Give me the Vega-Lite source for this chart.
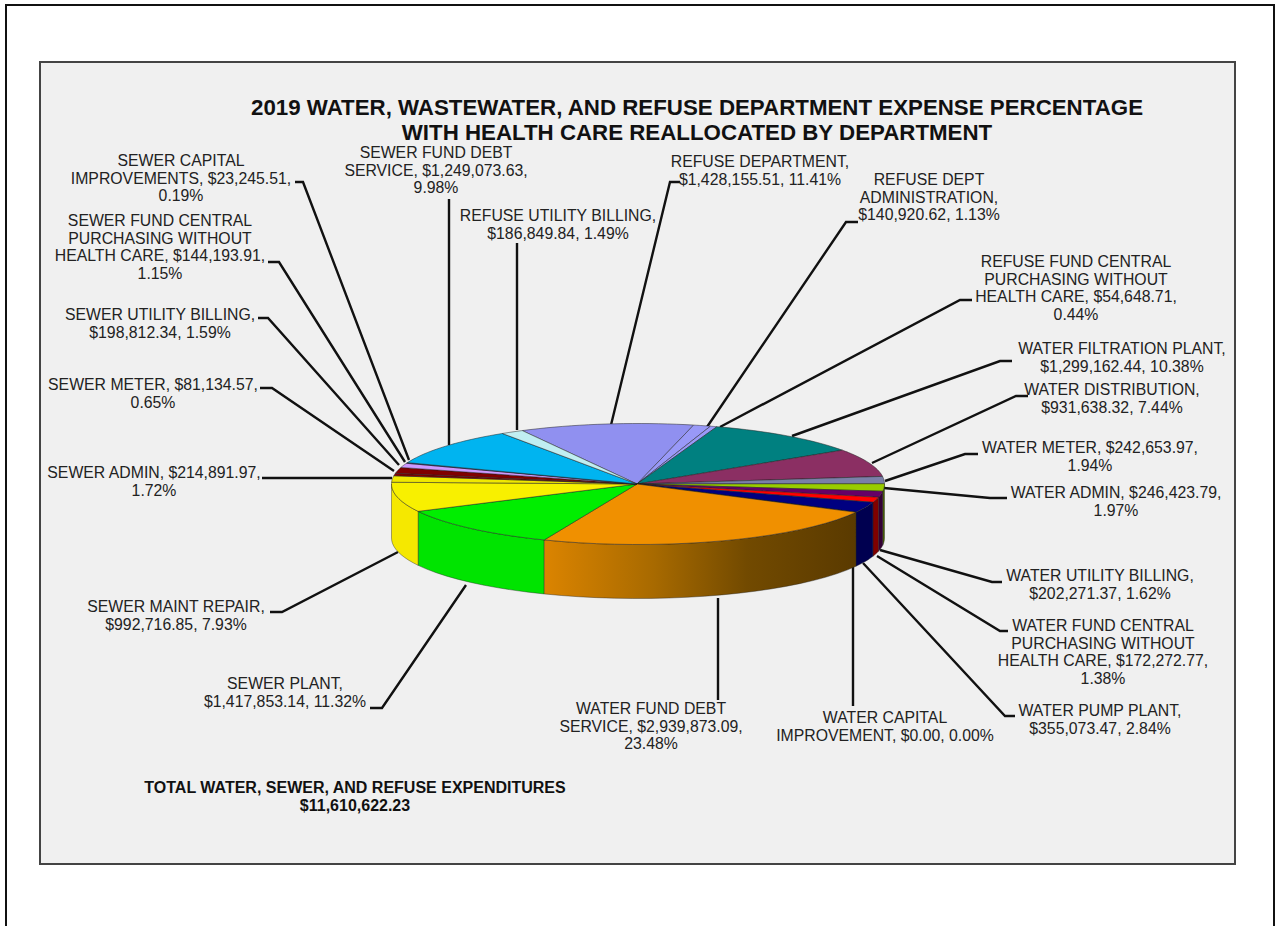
{
"$schema":"https://vega.github.io/schema/vega-lite/v6.json",
"width":1275,"height":926,"autosize":{"type":"none"},"padding":0,"background":"white",
"view":{"stroke":null},
"datasets":{
"slices":[
{"ord":1,"name":"REFUSE DEPARTMENT","value":1428155.51},
{"ord":2,"name":"REFUSE DEPT ADMINISTRATION","value":140920.62},
{"ord":3,"name":"REFUSE FUND CENTRAL PURCHASING","value":54648.71},
{"ord":4,"name":"WATER FILTRATION PLANT","value":1299162.44},
{"ord":5,"name":"WATER DISTRIBUTION","value":931638.32},
{"ord":6,"name":"WATER METER","value":242653.97},
{"ord":7,"name":"WATER ADMIN","value":246423.79},
{"ord":8,"name":"WATER UTILITY BILLING","value":202271.37},
{"ord":9,"name":"WATER FUND CENTRAL PURCHASING","value":172272.77},
{"ord":10,"name":"WATER PUMP PLANT","value":355073.47},
{"ord":11,"name":"WATER CAPITAL IMPROVEMENT","value":0},
{"ord":12,"name":"WATER FUND DEBT SERVICE","value":2939873.09},
{"ord":13,"name":"SEWER PLANT","value":1417853.14},
{"ord":14,"name":"SEWER MAINT REPAIR","value":992716.85},
{"ord":15,"name":"SEWER ADMIN","value":214891.97},
{"ord":16,"name":"SEWER METER","value":81134.57},
{"ord":17,"name":"SEWER UTILITY BILLING","value":198812.34},
{"ord":18,"name":"SEWER FUND CENTRAL PURCHASING","value":144193.91},
{"ord":19,"name":"SEWER CAPITAL IMPROVEMENTS","value":23245.51},
{"ord":20,"name":"SEWER FUND DEBT SERVICE","value":1249073.63},
{"ord":21,"name":"REFUSE UTILITY BILLING","value":186849.84}
],
"frames":[
{"part":"panel","x":40,"x2":1235,"y":62,"y2":864}
],
"labels":[
{"lbl":"SEWER CAPITAL\nIMPROVEMENTS, $23,245.51,\n0.19%","x":181,"y":166},
{"lbl":"SEWER FUND CENTRAL\nPURCHASING WITHOUT\nHEALTH CARE, $144,193.91,\n1.15%","x":160,"y":226},
{"lbl":"SEWER UTILITY BILLING,\n$198,812.34, 1.59%","x":160,"y":320},
{"lbl":"SEWER METER, $81,134.57,\n0.65%","x":153,"y":390},
{"lbl":"SEWER ADMIN, $214,891.97,\n1.72%","x":154,"y":478},
{"lbl":"SEWER MAINT REPAIR,\n$992,716.85, 7.93%","x":176,"y":612},
{"lbl":"SEWER PLANT,\n$1,417,853.14, 11.32%","x":285,"y":689},
{"lbl":"WATER FUND DEBT\nSERVICE, $2,939,873.09,\n23.48%","x":651,"y":714},
{"lbl":"WATER CAPITAL\nIMPROVEMENT, $0.00, 0.00%","x":885,"y":723},
{"lbl":"WATER PUMP PLANT,\n$355,073.47, 2.84%","x":1100,"y":716},
{"lbl":"WATER FUND CENTRAL\nPURCHASING WITHOUT\nHEALTH CARE, $172,272.77,\n1.38%","x":1103,"y":631},
{"lbl":"WATER UTILITY BILLING,\n$202,271.37, 1.62%","x":1100,"y":581},
{"lbl":"WATER ADMIN, $246,423.79,\n1.97%","x":1116,"y":498},
{"lbl":"WATER METER, $242,653.97,\n1.94%","x":1090,"y":453},
{"lbl":"WATER DISTRIBUTION,\n$931,638.32, 7.44%","x":1112,"y":395},
{"lbl":"WATER FILTRATION PLANT,\n$1,299,162.44, 10.38%","x":1122,"y":354},
{"lbl":"REFUSE FUND CENTRAL\nPURCHASING WITHOUT\nHEALTH CARE, $54,648.71,\n0.44%","x":1076,"y":267},
{"lbl":"REFUSE DEPT\nADMINISTRATION,\n$140,920.62, 1.13%","x":929,"y":185},
{"lbl":"REFUSE DEPARTMENT,\n$1,428,155.51, 11.41%","x":760,"y":167},
{"lbl":"REFUSE UTILITY BILLING,\n$186,849.84, 1.49%","x":558,"y":221},
{"lbl":"SEWER FUND DEBT\nSERVICE, $1,249,073.63,\n9.98%","x":436,"y":158}
],
"titles":[
{"lbl":"2019 WATER, WASTEWATER, AND REFUSE DEPARTMENT EXPENSE PERCENTAGE\nWITH HEALTH CARE REALLOCATED BY DEPARTMENT","x":697,"y":115}
],
"notes":[
{"lbl":"TOTAL WATER, SEWER, AND REFUSE EXPENDITURES\n$11,610,622.23","x":355,"y":793}
],
"page":[
{"s":1,"x":6,"y":926},{"s":2,"x":6,"y":5},{"s":3,"x":1274,"y":5},{"s":4,"x":1274,"y":926}
],
"leaders":[
{"id":"a","s":1,"x":295,"y":182},{"id":"a","s":2,"x":303,"y":182},{"id":"a","s":3,"x":409,"y":460},
{"id":"b","s":1,"x":268,"y":262},{"id":"b","s":2,"x":279,"y":262},{"id":"b","s":3,"x":405,"y":462},
{"id":"c","s":1,"x":258,"y":318},{"id":"c","s":2,"x":268,"y":318},{"id":"c","s":3,"x":399,"y":465},
{"id":"d","s":1,"x":260,"y":388},{"id":"d","s":2,"x":272,"y":388},{"id":"d","s":3,"x":394,"y":471},
{"id":"e","s":1,"x":262,"y":478},{"id":"e","s":2,"x":392,"y":478},
{"id":"f","s":1,"x":270,"y":612},{"id":"f","s":2,"x":282,"y":612},{"id":"f","s":3,"x":398,"y":552},
{"id":"g","s":1,"x":370,"y":708},{"id":"g","s":2,"x":382,"y":708},{"id":"g","s":3,"x":466,"y":585},
{"id":"h","s":1,"x":718,"y":700},{"id":"h","s":2,"x":718,"y":598},
{"id":"i","s":1,"x":853,"y":706},{"id":"i","s":2,"x":853,"y":567},
{"id":"j","s":1,"x":1015,"y":716},{"id":"j","s":2,"x":1005,"y":716},{"id":"j","s":3,"x":863,"y":563},
{"id":"k","s":1,"x":1008,"y":631},{"id":"k","s":2,"x":1000,"y":631},{"id":"k","s":3,"x":877,"y":556},
{"id":"l","s":1,"x":1002,"y":582},{"id":"l","s":2,"x":992,"y":582},{"id":"l","s":3,"x":880,"y":550},
{"id":"m","s":1,"x":1007,"y":498},{"id":"m","s":2,"x":990,"y":498},{"id":"m","s":3,"x":884,"y":488},
{"id":"n","s":1,"x":978,"y":454},{"id":"n","s":2,"x":965,"y":454},{"id":"n","s":3,"x":885,"y":481},
{"id":"o","s":1,"x":1028,"y":396},{"id":"o","s":2,"x":1016,"y":396},{"id":"o","s":3,"x":872,"y":463},
{"id":"p","s":1,"x":1012,"y":361},{"id":"p","s":2,"x":1000,"y":361},{"id":"p","s":3,"x":792,"y":436},
{"id":"q","s":1,"x":972,"y":300},{"id":"q","s":2,"x":960,"y":300},{"id":"q","s":3,"x":720,"y":427},
{"id":"r","s":1,"x":858,"y":222},{"id":"r","s":2,"x":846,"y":222},{"id":"r","s":3,"x":707,"y":427},
{"id":"s","s":1,"x":680,"y":182},{"id":"s","s":2,"x":670,"y":182},{"id":"s","s":3,"x":611,"y":425},
{"id":"t","s":1,"x":517,"y":243},{"id":"t","s":2,"x":517,"y":430},
{"id":"u","s":1,"x":449,"y":199},{"id":"u","s":2,"x":449,"y":445}
]
},
"resolve":{"scale":{"fill":"independent"}},
"layer":[
{"data":{"name":"page"},
 "mark":{"type":"line","stroke":"#111","strokeWidth":2},
 "encoding":{"x":{"field":"x","type":"quantitative","axis":null,"scale":{"domain":[0,1275],"nice":false,"zero":false}},"y":{"field":"y","type":"quantitative","axis":null,"scale":{"domain":[0,926],"nice":false,"zero":false,"reverse":true}},"order":{"field":"s"}}},
{"data":{"name":"frames"},
 "mark":{"type":"rect","fill":"#f0f0f0","stroke":"#444","strokeWidth":2},
 "encoding":{"x":{"field":"x","type":"quantitative"},"x2":{"field":"x2"},"y":{"field":"y","type":"quantitative"},"y2":{"field":"y2"}}},
{"data":{"name":"leaders"},
 "mark":{"type":"line","stroke":"#111","strokeWidth":2.4},
 "encoding":{"x":{"field":"x","type":"quantitative"},"y":{"field":"y","type":"quantitative"},"detail":{"field":"id"},"order":{"field":"s"}}},
{"data":{"name":"slices"},
 "transform":[
  {"window":[{"op":"sum","field":"value","as":"cum"}],"sort":[{"field":"ord"}]},
  {"joinaggregate":[{"op":"sum","field":"value","as":"total"}]},
  {"calculate":"clamp((datum.cum-datum.value)/datum.total*2*PI-0.489,PI/2,3*PI/2)","as":"a0"},
  {"calculate":"clamp(datum.cum/datum.total*2*PI-0.489,PI/2,3*PI/2)","as":"a1"},
  {"filter":"datum.a1>datum.a0 && datum.name!='WATER FUND DEBT SERVICE'"},
  {"calculate":"[0,0.1,0.2,0.3,0.4,0.5,0.6,0.7,0.8,0.9,1]","as":"t"},
  {"flatten":["t"]},
  {"calculate":"datum.a0+(datum.a1-datum.a0)*datum.t","as":"a"},
  {"calculate":"638+246.5*sin(datum.a)","as":"px"},
  {"calculate":"484-60.5*cos(datum.a)","as":"py"},
  {"calculate":"datum.py+54","as":"py2"}
 ],
 "mark":{"type":"area","stroke":"#222","strokeWidth":0.4},
 "encoding":{"x":{"field":"px","type":"quantitative"},"y":{"field":"py","type":"quantitative"},"y2":{"field":"py2"},"detail":{"field":"name"},
  "fill":{"field":"name","type":"nominal","legend":null,"scale":{"domain":["WATER ADMIN","WATER METER","WATER UTILITY BILLING","WATER FUND CENTRAL PURCHASING","WATER PUMP PLANT","WATER CAPITAL IMPROVEMENT","SEWER PLANT","SEWER MAINT REPAIR"],"range":["#4d6600","#3c4054","#330033","#800000","#000050","#000050","#00e400","#f5e800"]}}}},
{"data":{"name":"slices"},
 "transform":[
  {"window":[{"op":"sum","field":"value","as":"cum"}],"sort":[{"field":"ord"}]},
  {"joinaggregate":[{"op":"sum","field":"value","as":"total"}]},
  {"filter":"datum.name=='WATER FUND DEBT SERVICE'"},
  {"calculate":"(datum.cum-datum.value)/datum.total*2*PI-0.489","as":"a0"},
  {"calculate":"datum.cum/datum.total*2*PI-0.489","as":"a1"},
  {"calculate":"[0,0.05,0.1,0.15,0.2,0.25,0.3,0.35,0.4,0.45,0.5,0.55,0.6,0.65,0.7,0.75,0.8,0.85,0.9,0.95,1]","as":"t"},
  {"flatten":["t"]},
  {"calculate":"datum.a0+(datum.a1-datum.a0)*datum.t","as":"a"},
  {"calculate":"638+246.5*sin(datum.a)","as":"px"},
  {"calculate":"484-60.5*cos(datum.a)","as":"py"},
  {"calculate":"datum.py+54","as":"py2"}
 ],
 "mark":{"type":"area","stroke":"#222","strokeWidth":0.4,"fill":{"gradient":"linear","x1":0,"x2":1,"y1":0,"y2":0,"stops":[{"offset":0,"color":"#db8400"},{"offset":0.35,"color":"#a86a00"},{"offset":0.65,"color":"#724a00"},{"offset":1,"color":"#5a3a00"}]}},
 "encoding":{"x":{"field":"px","type":"quantitative"},"y":{"field":"py","type":"quantitative"},"y2":{"field":"py2"}}},
{"data":{"name":"slices"},
 "transform":[
  {"window":[{"op":"sum","field":"value","as":"cum"}],"sort":[{"field":"ord"}]},
  {"joinaggregate":[{"op":"sum","field":"value","as":"total"}]},
  {"calculate":"(datum.cum-datum.value)/datum.total*2*PI-0.489","as":"a0"},
  {"calculate":"datum.cum/datum.total*2*PI-0.489","as":"a1"},
  {"calculate":"[-1,0,0.05,0.1,0.15,0.2,0.25,0.3,0.35,0.4,0.45,0.5,0.55,0.6,0.65,0.7,0.75,0.8,0.85,0.9,0.95,1,2]","as":"t"},
  {"flatten":["t"]},
  {"calculate":"datum.a0+(datum.a1-datum.a0)*datum.t","as":"a"},
  {"calculate":"datum.t<0||datum.t>1?637:638+246.5*sin(datum.a)","as":"px"},
  {"calculate":"datum.t<0||datum.t>1?484:484-60.5*cos(datum.a)","as":"py"}
 ],
 "mark":{"type":"line","filled":true,"stroke":"#222","strokeWidth":0.5},
 "encoding":{"x":{"field":"px","type":"quantitative"},"y":{"field":"py","type":"quantitative"},"detail":{"field":"name"},"order":{"field":"t"},
  "fill":{"field":"name","type":"nominal","legend":null,"scale":{"domain":["REFUSE DEPARTMENT","REFUSE DEPT ADMINISTRATION","REFUSE FUND CENTRAL PURCHASING","WATER FILTRATION PLANT","WATER DISTRIBUTION","WATER METER","WATER ADMIN","WATER UTILITY BILLING","WATER FUND CENTRAL PURCHASING","WATER PUMP PLANT","WATER CAPITAL IMPROVEMENT","WATER FUND DEBT SERVICE","SEWER PLANT","SEWER MAINT REPAIR","SEWER ADMIN","SEWER METER","SEWER UTILITY BILLING","SEWER FUND CENTRAL PURCHASING","SEWER CAPITAL IMPROVEMENTS","SEWER FUND DEBT SERVICE","REFUSE UTILITY BILLING"],"range":["#9090f0","#9999f8","#9999f8","#008080","#8b2f63","#7a7fa8","#99cc00","#660066","#ff0000","#000080","#000080","#f09000","#00ee00","#f8f000","#f0e800","#800000","#800000","#cc99ff","#3333aa","#00b4f0","#c0eef2"]}}}},
{"data":{"name":"labels"},
 "mark":{"type":"text","font":"Liberation Sans","fontSize":15.8,"fill":"#222","align":"center","baseline":"alphabetic","lineBreak":"\n","lineHeight":17.6},
 "encoding":{"x":{"field":"x","type":"quantitative"},"y":{"field":"y","type":"quantitative"},"text":{"field":"lbl","type":"nominal"}}},
{"data":{"name":"titles"},
 "mark":{"type":"text","font":"Liberation Sans","fontSize":22.3,"fontWeight":"bold","fill":"#111","align":"center","baseline":"alphabetic","lineBreak":"\n","lineHeight":25},
 "encoding":{"x":{"field":"x","type":"quantitative"},"y":{"field":"y","type":"quantitative"},"text":{"field":"lbl","type":"nominal"}}},
{"data":{"name":"notes"},
 "mark":{"type":"text","font":"Liberation Sans","fontSize":16,"fontWeight":"bold","fill":"#111","align":"center","baseline":"alphabetic","lineBreak":"\n","lineHeight":18},
 "encoding":{"x":{"field":"x","type":"quantitative"},"y":{"field":"y","type":"quantitative"},"text":{"field":"lbl","type":"nominal"}}}
]
}
